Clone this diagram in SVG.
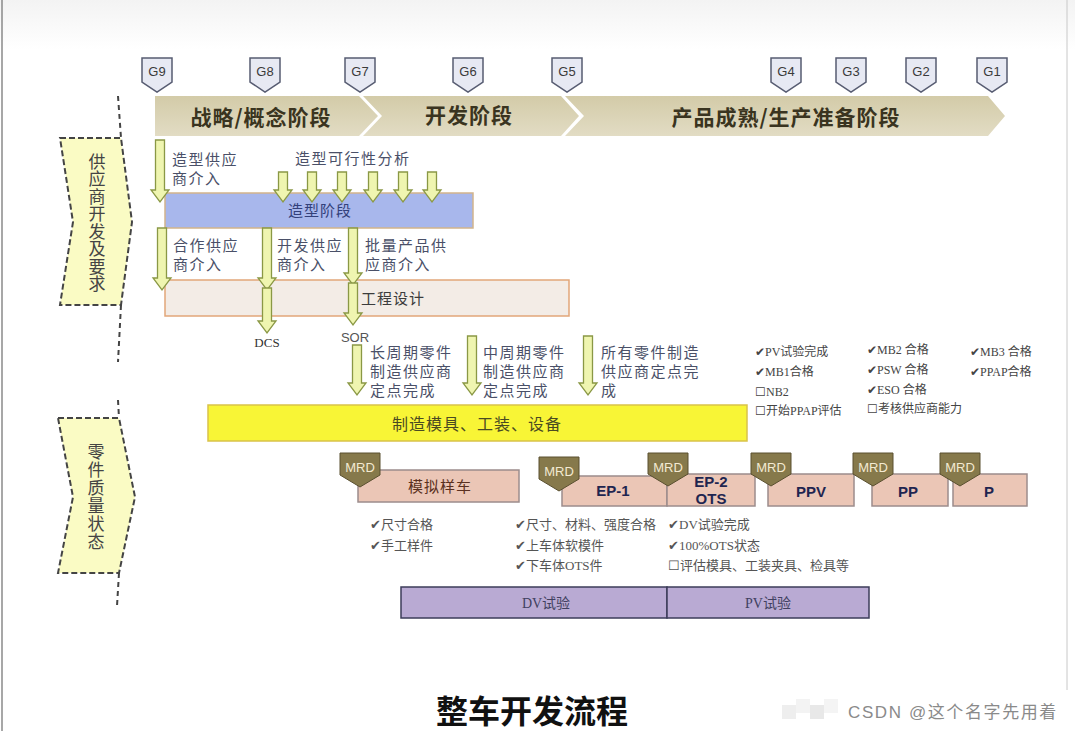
<svg xmlns="http://www.w3.org/2000/svg" width="1075" height="731" viewBox="0 0 1075 731">
<style>
.gate path{fill:#e7e9f3;stroke:#575c72;stroke-width:1.5}
.gate text{font:13px "Liberation Sans",sans-serif;fill:#3a3a3a;text-anchor:middle}
.phase{fill:url(#phg)}
.ptxt{font-family:"Noto Sans CJK SC",sans-serif;font-size:21px;font-weight:bold;fill:#3a3420;text-anchor:middle;letter-spacing:1px}
.side{fill:#fafbc4;stroke:#444;stroke-width:2;stroke-dasharray:6 3}
.dash{fill:none;stroke:#444;stroke-width:2;stroke-dasharray:5 4}
.vtxt{font-family:"Noto Sans CJK SC",sans-serif;font-size:17px;fill:#444;text-anchor:middle;writing-mode:vertical-rl}
.lbl{font-family:"Noto Sans CJK SC",sans-serif;font-size:15px;fill:#4a5068;letter-spacing:1.5px}
.arr{fill:#eff5b0;stroke:#8a9845;stroke-width:1.3}
.chk{font-family:"Liberation Serif","Noto Sans CJK SC",serif;font-size:12px;fill:#444}
.note{font-family:"Liberation Serif","Noto Sans CJK SC",serif;font-size:13px;fill:#555}
.mrd path{fill:#86794b;stroke:#5a5030;stroke-width:1}
.mrd text{font:13px "Liberation Sans",sans-serif;fill:#f3ead2;text-anchor:middle}
.pbox{fill:#ebc6b6;stroke:#9c8c8c;stroke-width:1.5}
.ptext{font-family:"Liberation Sans",sans-serif;font-size:15px;font-weight:bold;fill:#1f2550;text-anchor:middle}
.test{fill:#b9aad3;stroke:#3c3c5a;stroke-width:1.5}
.ttxt{font-family:"Liberation Serif","Noto Sans CJK SC",serif;font-size:14px;fill:#404060;text-anchor:middle}
</style>
<defs>
<linearGradient id="phg" x1="0" y1="0" x2="0" y2="1">
<stop offset="0" stop-color="#d3cba8"/>
<stop offset="1" stop-color="#e2dcc4"/>
</linearGradient>
<linearGradient id="topg" x1="0" y1="0" x2="0" y2="1">
<stop offset="0" stop-color="#f3f3f3"/>
<stop offset="1" stop-color="#ffffff"/>
</linearGradient>
</defs>
<rect width="1075" height="731" fill="#ffffff"/>
<rect x="0" y="0" width="1075" height="50" fill="url(#topg)"/>
<line x1="2" y1="0" x2="2" y2="731" stroke="#8a8a8a" stroke-width="1.5"/>
<line x1="1067" y1="0" x2="1067" y2="690" stroke="#c8c8c8" stroke-width="1"/>

<!-- phases -->
<g id="phases">
<path class="phase" d="M155,96 H359 L378,116 L359,136 H155 Z"/>
<path class="phase" d="M363,96 H561 L579,116 L561,136 H363 L382,116 Z"/>
<path class="phase" d="M565,96 H988 L1005,116 L988,136 H565 L584,116 Z"/>
<text class="ptxt" x="261" y="125">战略/概念阶段</text>
<text class="ptxt" x="469" y="123">开发阶段</text>
<text class="ptxt" x="786" y="125">产品成熟/生产准备阶段</text>
</g>

<!-- gates -->
<g id="gates">
<g class="gate"><path d="M142,58 H172 V82 L157,92 L142,82 Z"/><text x="157" y="76">G9</text></g>
<g class="gate"><path d="M250,58 H280 V82 L265,92 L250,82 Z"/><text x="265" y="76">G8</text></g>
<g class="gate"><path d="M345,58 H375 V82 L360,92 L345,82 Z"/><text x="360" y="76">G7</text></g>
<g class="gate"><path d="M453,58 H483 V82 L468,92 L453,82 Z"/><text x="468" y="76">G6</text></g>
<g class="gate"><path d="M552,58 H582 V82 L567,92 L552,82 Z"/><text x="567" y="76">G5</text></g>
<g class="gate"><path d="M771,58 H801 V82 L786,92 L771,82 Z"/><text x="786" y="76">G4</text></g>
<g class="gate"><path d="M836,58 H866 V82 L851,92 L836,82 Z"/><text x="851" y="76">G3</text></g>
<g class="gate"><path d="M906,58 H936 V82 L921,92 L906,82 Z"/><text x="921" y="76">G2</text></g>
<g class="gate"><path d="M977,58 H1007 V82 L992,92 L977,82 Z"/><text x="992" y="76">G1</text></g>
</g>

<!-- side labels -->
<g id="side-supplier">
<line class="dash" x1="118" y1="96" x2="121" y2="138"/>
<line class="dash" x1="121" y1="305" x2="118" y2="362"/>
<path class="side" d="M60,138 H121 L132,222 L121,305 H60 L73,222 Z"/>
<text class="vtxt" x="97" y="223" letter-spacing="0.5">供应商开发及要求</text>
</g>
<g id="side-quality">
<line class="dash" x1="118" y1="400" x2="119" y2="418"/>
<line class="dash" x1="119" y1="573" x2="117" y2="606"/>
<path class="side" d="M58,418 H119 L135,497 L119,573 H58 L73,497 Z"/>
<text class="vtxt" x="96" y="497" letter-spacing="1">零件质量状态</text>
</g>

<!-- stage boxes -->
<g id="styling">
<rect x="165" y="193" width="308" height="35" fill="#a8b7ec" stroke="#d2b48c" stroke-width="1.5"/>
<text x="320" y="216" font-family="Noto Sans CJK SC,sans-serif" font-size="15" fill="#33407a" text-anchor="middle" letter-spacing="1">造型阶段</text>
</g>
<g id="engineering">
<rect x="165" y="280" width="404" height="36" fill="#f3ece6" stroke="#e2a679" stroke-width="1.5"/>
<text x="393" y="304" font-family="Noto Sans CJK SC,sans-serif" font-size="15" fill="#3c3c3c" text-anchor="middle" letter-spacing="1">工程设计</text>
</g>
<g id="tooling">
<rect x="208" y="405" width="539" height="36" fill="#f8f536" stroke="#d9c24a" stroke-width="1.5"/>
<text x="477" y="430" font-family="Noto Sans CJK SC,sans-serif" font-size="16" fill="#4a4a22" text-anchor="middle" letter-spacing="1">制造模具、工装、设备</text>
</g>

<!-- labels -->
<g id="labels">
<text class="lbl" x="172" y="165">造型供应</text>
<text class="lbl" x="172" y="184">商介入</text>
<text class="lbl" x="295" y="164">造型可行性分析</text>
<text class="lbl" x="173" y="251">合作供应</text>
<text class="lbl" x="173" y="270">商介入</text>
<text class="lbl" x="277" y="251">开发供应</text>
<text class="lbl" x="277" y="270">商介入</text>
<text class="lbl" x="365" y="251">批量产品供</text>
<text class="lbl" x="365" y="270">应商介入</text>
<text font-family="Liberation Serif,serif" font-size="13" fill="#333" x="267" y="347" text-anchor="middle">DCS</text>
<text font-family="Liberation Sans,sans-serif" font-size="13" fill="#555" x="355" y="342" text-anchor="middle">SOR</text>
<text class="lbl" x="370" y="358">长周期零件</text>
<text class="lbl" x="370" y="377">制造供应商</text>
<text class="lbl" x="370" y="396">定点完成</text>
<text class="lbl" x="483" y="358">中周期零件</text>
<text class="lbl" x="483" y="377">制造供应商</text>
<text class="lbl" x="483" y="396">定点完成</text>
<text class="lbl" x="601" y="358">所有零件制造</text>
<text class="lbl" x="601" y="377">供应商定点完</text>
<text class="lbl" x="601" y="396">成</text>
</g>

<!-- connectors -->
<g id="connectors">
<path class="arr" d="M155.5,140 H164.5 V190 H169 L160,202 L151,190 H155.5 Z"/>
<path class="arr" d="M278.5,172 H287.5 V190 H292 L283,202 L274,190 H278.5 Z"/>
<path class="arr" d="M307.5,172 H316.5 V190 H321 L312,202 L303,190 H307.5 Z"/>
<path class="arr" d="M337.5,172 H346.5 V190 H351 L342,202 L333,190 H337.5 Z"/>
<path class="arr" d="M368.5,172 H377.5 V190 H382 L373,202 L364,190 H368.5 Z"/>
<path class="arr" d="M398.5,172 H407.5 V190 H412 L403,202 L394,190 H398.5 Z"/>
<path class="arr" d="M427.5,172 H436.5 V190 H441 L432,202 L423,190 H427.5 Z"/>
<path class="arr" d="M157.5,228 H166.5 V278 H171 L162,290 L153,278 H157.5 Z"/>
<path class="arr" d="M262.5,228 H271.5 V278 H276 L267,290 L258,278 H262.5 Z"/>
<path class="arr" d="M262.5,288 H271.5 V321 H276 L267,333 L258,321 H262.5 Z"/>
<path class="arr" d="M348.5,228 H357.5 V273 H362 L353,285 L344,273 H348.5 Z"/>
<path class="arr" d="M348.5,283 H357.5 V313 H362 L353,325 L344,313 H348.5 Z"/>
<path class="arr" d="M352.5,345 H361.5 V383 H366 L357,395 L348,383 H352.5 Z"/>
<path class="arr" d="M467.5,336 H476.5 V383 H481 L472,395 L463,383 H467.5 Z"/>
<path class="arr" d="M583.5,336 H592.5 V383 H597 L588,395 L579,383 H583.5 Z"/>
</g>

<!-- checklist -->
<g id="checklist">
<text class="chk" x="755" y="356">✔PV试验完成</text>
<text class="chk" x="755" y="376">✔MB1合格</text>
<text class="chk" x="755" y="396">☐NB2</text>
<text class="chk" x="755" y="415">☐开始PPAP评估</text>
<text class="chk" x="867" y="354">✔MB2 合格</text>
<text class="chk" x="867" y="374">✔PSW 合格</text>
<text class="chk" x="867" y="394">✔ESO 合格</text>
<text class="chk" x="867" y="413">☐考核供应商能力</text>
<text class="chk" x="970" y="356">✔MB3 合格</text>
<text class="chk" x="970" y="376">✔PPAP合格</text>
</g>

<!-- prototype stages -->
<g id="stage-mock">
<rect class="pbox" x="358" y="470" width="161" height="32"/>
<text x="440" y="492" font-family="Noto Sans CJK SC,sans-serif" font-size="15" fill="#5a3020" text-anchor="middle" letter-spacing="1">模拟样车</text>
<g class="mrd"><path d="M340,453 H380 V475 L360,487 L340,475 Z"/><text x="360" y="472">MRD</text></g>
</g>
<g id="stage-ep1">
<rect class="pbox" x="562" y="476" width="105" height="30"/>
<text class="ptext" x="613" y="496">EP-1</text>
<g class="mrd"><path d="M539,457 H579 V479 L559,491 L539,479 Z"/><text x="559" y="476">MRD</text></g>
</g>
<g id="stage-ep2">
<rect class="pbox" x="667" y="474" width="88" height="32"/>
<text class="ptext" x="711" y="487">EP-2</text>
<text class="ptext" x="711" y="504">OTS</text>
<g class="mrd"><path d="M648,453 H688 V474 L668,486 L648,474 Z"/><text x="668" y="472">MRD</text></g>
</g>
<g id="stage-ppv">
<rect class="pbox" x="768" y="474" width="86" height="32"/>
<text class="ptext" x="811" y="497">PPV</text>
<g class="mrd"><path d="M751,453 H791 V474 L771,486 L751,474 Z"/><text x="771" y="472">MRD</text></g>
</g>
<g id="stage-pp">
<rect class="pbox" x="872" y="474" width="76" height="32"/>
<text class="ptext" x="908" y="497">PP</text>
<g class="mrd"><path d="M853,453 H893 V474 L873,486 L853,474 Z"/><text x="873" y="472">MRD</text></g>
</g>
<g id="stage-p">
<rect class="pbox" x="953" y="474" width="74" height="32"/>
<text class="ptext" x="989" y="497">P</text>
<g class="mrd"><path d="M940,453 H980 V474 L960,486 L940,474 Z"/><text x="960" y="472">MRD</text></g>
</g>

<!-- notes -->
<g id="notes">
<text class="note" x="370" y="529">✔尺寸合格</text>
<text class="note" x="370" y="550">✔手工样件</text>
<text class="note" x="515" y="529">✔尺寸、材料、强度合格</text>
<text class="note" x="515" y="550">✔上车体软模件</text>
<text class="note" x="515" y="570">✔下车体OTS件</text>
<text class="note" x="668" y="529">✔DV试验完成</text>
<text class="note" x="668" y="550">✔100%OTS状态</text>
<text class="note" x="668" y="570">☐评估模具、工装夹具、检具等</text>
</g>

<!-- tests -->
<g id="dv">
<rect class="test" x="401" y="587" width="266" height="31"/>
<text class="ttxt" x="546" y="608">DV试验</text>
</g>
<g id="pv">
<rect class="test" x="667" y="587" width="202" height="31"/>
<text class="ttxt" x="768" y="608">PV试验</text>
</g>

<text x="532" y="723" font-family="Noto Sans CJK SC,sans-serif" font-size="32" font-weight="bold" fill="#111" text-anchor="middle">整车开发流程</text>
<g id="watermark">
<rect x="782" y="705" width="14" height="14" fill="#eeeeee"/>
<rect x="796" y="699" width="14" height="14" fill="#f3f3f3"/>
<rect x="810" y="705" width="14" height="14" fill="#e8e8e8"/>
<rect x="824" y="699" width="14" height="14" fill="#f4f4f4"/>
<text x="848" y="718" font-family="Liberation Sans,Noto Sans CJK SC,sans-serif" font-size="17" fill="#8a8a8a" letter-spacing="1.6">CSDN @这个名字先用着</text>
</g>
</svg>
